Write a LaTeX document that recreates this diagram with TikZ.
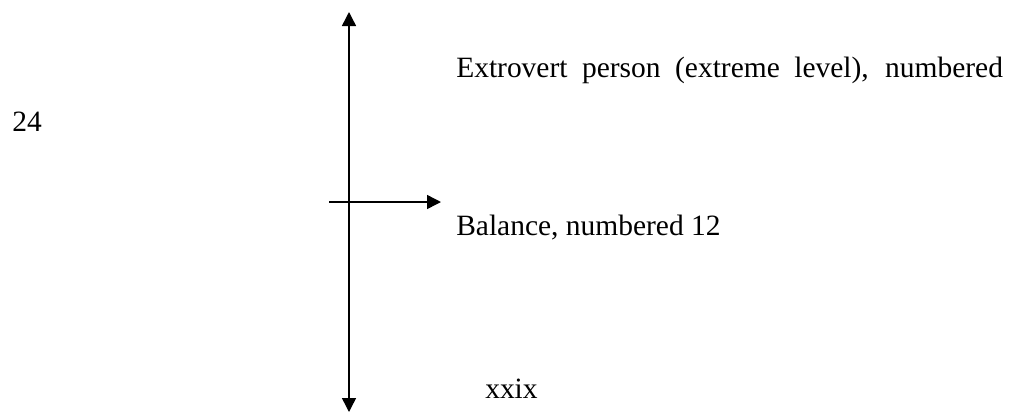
\documentclass[tikz,border=0pt]{standalone}
\usepackage{fontspec}
\setmainfont{Liberation Serif}
\usepackage{tikz}
\usetikzlibrary{positioning, arrows.meta}

\begin{document}
\begin{tikzpicture}[x=0.75pt, y=-0.75pt]
        % Styles
        \tikzstyle{label} = [anchor=base west, inner sep=0pt,
            font=\fontsize{22.1}{26}\selectfont]
        \tikzstyle{line} = [draw, line width=1.1pt,
            -{Triangle[width=10.5pt, length=10.5pt]}]

        \useasboundingbox (0,0) rectangle (1011,412);

        % Axis ends
        \coordinate (centre) at (349,202);
        \coordinate (top) at (349,12);
        \coordinate (bottom) at (349,412);
        \coordinate (left) at (329,202);
        \coordinate (right) at (441,202);

        % Nodes
        \node [label] (extrovert) at (456,77)
            {\makebox[410pt][s]{Extrovert person (extreme level), numbered}};
        \node [label] (number) at (12,131) {24};
        \node [label] (balance) at (456,235) {Balance, numbered 12};
        \node [label] (page) at (485,398) {xxix};

        % Connections
        \path [line] (centre) -- (top);
        \path [line] (centre) -- (bottom);
        \path [line] (left) -- (right);
    \end{tikzpicture}
\end{document}
